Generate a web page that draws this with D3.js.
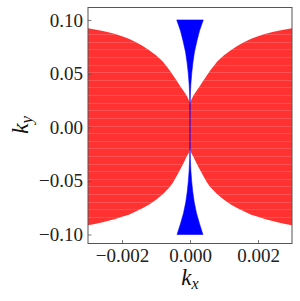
<!DOCTYPE html>
<html><head><meta charset="utf-8">
<script src="https://cdn.jsdelivr.net/npm/d3@7"></script>
<style>html,body{margin:0;padding:0;background:#fff}svg{display:block}</style>
</head><body>
<script>
// ---- data ----
// red region boundary (right lobe; left lobe is its mirror image)
const redKx    = [0, 0.00003, 0.0001, 0.0002, 0.0003, 0.0004, 0.0005, 0.0006, 0.0008, 0.001, 0.0012, 0.0014, 0.0016, 0.0018, 0.002, 0.0022, 0.0024, 0.0026, 0.0028, 0.003];
const redUpper = [0.022, 0.025, 0.0296, 0.0342, 0.039, 0.0437, 0.0485, 0.053, 0.0612, 0.0672, 0.0718, 0.076, 0.0795, 0.0825, 0.0848, 0.0868, 0.0885, 0.09, 0.0912, 0.0923];
const redLower = [-0.020, -0.0235, -0.0275, -0.034, -0.040, -0.046, -0.0515, -0.056, -0.0625, -0.0675, -0.072, -0.0755, -0.0785, -0.0815, -0.0835, -0.0855, -0.0872, -0.0888, -0.0902, -0.0914];
// blue region: half width in kx at each ky
const blueKy   = [-0.1, -0.09, -0.08, -0.07, -0.06, -0.05, -0.04, -0.03, -0.02, -0.01, 0, 0.01, 0.02, 0.03, 0.04, 0.05, 0.06, 0.07, 0.08, 0.09, 0.1];
const blueHalf = [0.00038, 0.00028, 0.00019, 0.000125, 0.00008, 0.000048, 0.000025, 0.00001, 0.000003, 0.0000005, 0, 0.0000005, 0.000003, 0.00001, 0.000025, 0.00005, 0.000085, 0.00013, 0.0002, 0.00028, 0.00039];
// ticks
const xTicks = [-0.002, 0, 0.002];
const xTickLabels = ["\u22120.002", "0.000", "0.002"];
const yTicks = [-0.1, -0.05, 0, 0.05, 0.1];
const yTickLabels = ["\u22120.10", "\u22120.05", "0.00", "0.05", "0.10"];

// ---- drawing ----
const W = 300, H = 301;
const svg = d3.select("body").append("svg").attr("width", W).attr("height", H);
const L = 88, R = 292, T = 7.5, B = 243.5;
const x = d3.scaleLinear().domain([-0.003, 0.003]).range([L, R]);
const y = d3.scaleLinear().domain([-0.1084, 0.1116]).range([B, T]);

// red region points (left mirrored + right)
const redPts = [];
for (let i = redKx.length - 1; i >= 0; i--) redPts.push({kx: -redKx[i], u: redUpper[i], l: redLower[i]});
for (let i = 1; i < redKx.length; i++) redPts.push({kx: redKx[i], u: redUpper[i], l: redLower[i]});
const redArea = d3.area().x(d => x(d.kx)).y0(d => y(d.l)).y1(d => y(d.u));
const redPath = redArea(redPts);

const defs = svg.append("defs");
defs.append("clipPath").attr("id", "redclip").append("path").attr("d", redPath);
defs.append("clipPath").attr("id", "plotclip").append("rect").attr("x", L).attr("y", T).attr("width", R - L).attr("height", B - T);

const plot = svg.append("g").attr("clip-path", "url(#plotclip)");
plot.append("path").attr("d", redPath).attr("fill", "#ff3131");
// faint horizontal strips seen in the filled region
const stripes = d3.range(-16, 17).map(i => 0.0016 + i * 0.0071);
plot.append("g").attr("clip-path", "url(#redclip)")
  .selectAll("line").data(stripes).join("line")
  .attr("x1", L).attr("x2", R)
  .attr("y1", d => Math.round(y(d)) + 0.5).attr("y2", d => Math.round(y(d)) + 0.5)
  .attr("stroke", "#fff").attr("stroke-opacity", 0.16).attr("stroke-width", 1);

const bluePts = blueKy.map((k, i) => ({ky: k, w: blueHalf[i]}));
const blueArea = d3.area().y(d => y(d.ky)).x0(d => x(-d.w)).x1(d => x(d.w));
plot.append("path").attr("d", blueArea(bluePts)).attr("fill", "#0000ff")
  .attr("stroke", "#0000ff").attr("stroke-width", 0.7).attr("stroke-opacity", 0.8);

// frame
svg.append("rect").attr("x", L).attr("y", T).attr("width", R - L).attr("height", B - T)
  .attr("fill", "none").attr("stroke", "#555").attr("stroke-width", 1);

const font = "'Liberation Serif', 'DejaVu Serif', serif";
const xAxis = d3.axisBottom(x).tickValues(xTicks).tickFormat((d, i) => xTickLabels[i]).tickSize(-3.5).tickPadding(5);
const gx = svg.append("g").attr("transform", `translate(0,${B})`).call(xAxis);
const yAxis = d3.axisLeft(y).tickValues(yTicks).tickFormat((d, i) => yTickLabels[i]).tickSize(-3.5).tickPadding(5);
const gy = svg.append("g").attr("transform", `translate(${L},0)`).call(yAxis);
[gx, gy].forEach(g => {
  g.select(".domain").remove();
  g.selectAll(".tick line").attr("stroke", "#555").attr("stroke-width", 0.8);
  g.selectAll(".tick text").attr("fill", "#222").style("font-family", font).style("font-size", "19px");
});

// axis titles
const tx = svg.append("text").attr("x", 190).attr("y", 285).attr("text-anchor", "middle")
  .style("font-family", font).style("font-size", "23px").attr("fill", "#111");
tx.append("tspan").style("font-style", "italic").text("k");
tx.append("tspan").style("font-style", "italic").style("font-size", "16px").attr("dy", 4).text("x");

const ty = svg.append("text").attr("transform", "translate(28,125) rotate(-90)").attr("text-anchor", "middle")
  .style("font-family", font).style("font-size", "24px").attr("fill", "#111");
ty.append("tspan").style("font-style", "italic").text("k");
ty.append("tspan").style("font-style", "italic").style("font-size", "17px").attr("dy", 4).text("y");
</script>
</body></html>
